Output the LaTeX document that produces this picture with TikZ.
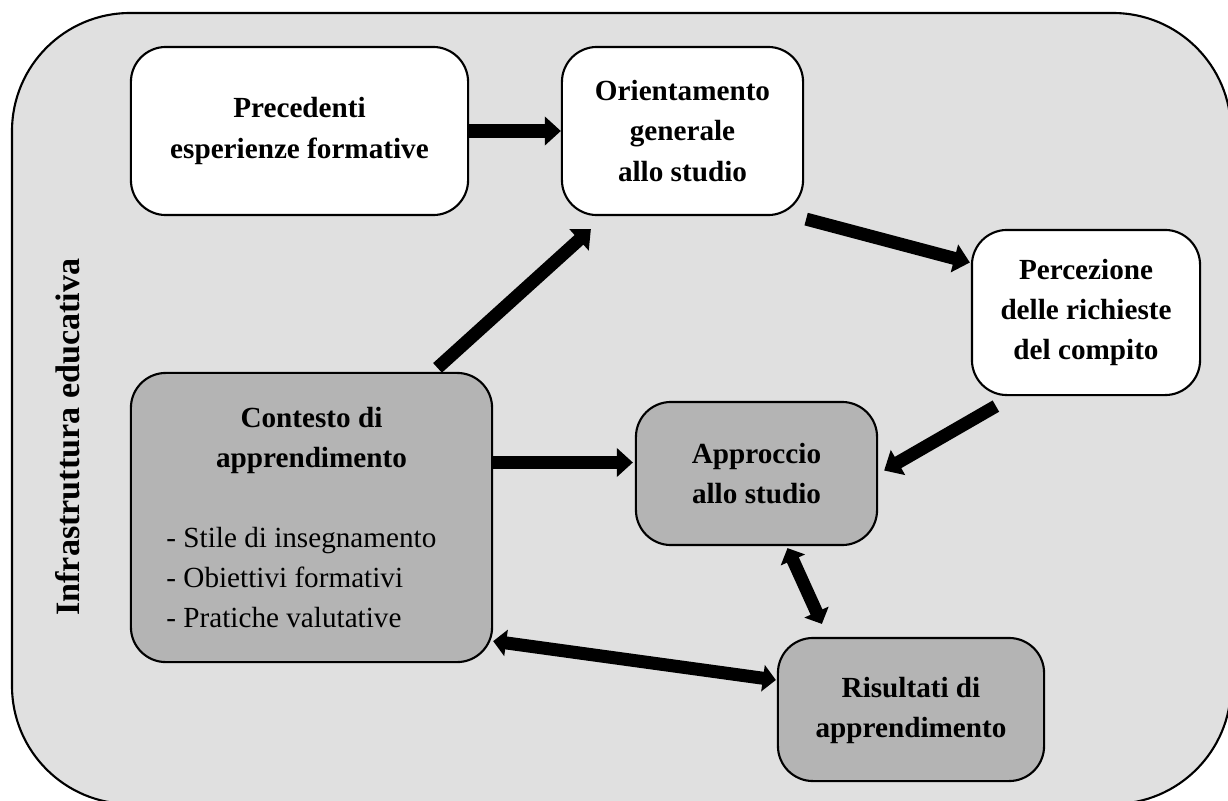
\documentclass[tikz,border=0pt]{standalone}
\usepackage{fontspec}
\setmainfont{Liberation Serif}
\usetikzlibrary{arrows.meta,calc}
\begin{document}
\begin{tikzpicture}[x=0.01cm,y=-0.01cm,
  txt/.style={font=\fontsize{8.3pt}{11.4pt}\selectfont\bfseries, align=center},
  card/.style={txt, draw=black, line width=0.6pt, rounded corners=0.35cm, inner sep=0pt},
  light/.style={card, fill=white},
  dark/.style={card, fill=boxgray},
  flow/.style={line width=0.13cm, -{Triangle[width=0.28cm,length=0.16cm]}},
  mutual/.style={line width=0.13cm, {Triangle[width=0.26cm,length=0.13cm]}-{Triangle[width=0.26cm,length=0.13cm]}}
]
\definecolor{boxgray}{RGB}{180,180,180}
\definecolor{bggray}{RGB}{224,224,224}
\clip (0,0) rectangle (1228,800);

% frame of the educational infrastructure
\draw[line width=0.6pt, fill=bggray, rounded corners=1.18cm] (12,13) rectangle (1231,804);
\node[font=\fontsize{9.7pt}{12pt}\selectfont\bfseries, rotate=90] (infra) at (68,437) {Infrastruttura educativa};

% boxes
\node[light, minimum width=3.37cm, minimum height=1.68cm] (prec) at (299.5,131) {Precedenti\\esperienze formative};
\node[light, minimum width=2.41cm, minimum height=1.68cm] (ori) at (682.5,131) {Orientamento\\generale\\allo studio};
\node[light, minimum width=2.28cm, minimum height=1.65cm] (perc) at (1086,312.5) {Percezione\\delle richieste\\del compito};
\node[dark, minimum width=3.61cm, minimum height=2.89cm] (cont) at (311.5,517.5) {Contesto di\\apprendimento\\[11.4pt]
  \mdseries\makebox[2.9cm][l]{- Stile di insegnamento}\\
  \mdseries\makebox[2.9cm][l]{- Obiettivi formativi}\\
  \mdseries\makebox[2.9cm][l]{- Pratiche valutative}};
\node[dark, minimum width=2.41cm, minimum height=1.43cm] (appr) at (756.5,473.5) {Approccio\\allo studio};
\node[dark, minimum width=2.66cm, minimum height=1.43cm] (ris) at (911,709.5)
  {\raisebox{-0.15cm}{\begin{tabular}{@{}c@{}}Risultati di\\apprendimento\end{tabular}}};

% connectors
\draw[flow] (prec.east) -- (ori.west);
\draw[flow] ($(ori.south east)+(2,3)$) -- ($(perc.west)+(-1,-50)$);
\draw[flow] ($(cont.north)+(126,-4)$) -- ($(ori.south west)+(30,13)$);
\draw[flow] ($(perc.south west)+(25,10)$) -- ($(appr.east)+(6,-3)$);
\draw[flow] ($(cont.east)+(0,-55)$) -- ($(appr.west)+(-2,-11)$);
\draw[mutual] ($(appr.south)+(31,2)$) -- ($(ris.north west)+(45,-13)$);
\draw[mutual] ($(cont.south east)+(0,-22)$) -- ($(ris.west)+(-1,-29.5)$);
\end{tikzpicture}
\end{document}
